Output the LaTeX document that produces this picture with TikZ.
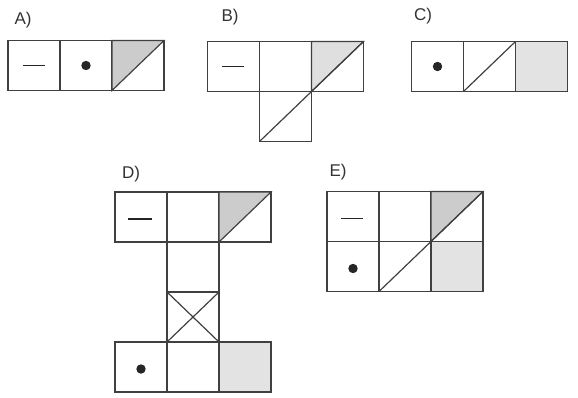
\documentclass[tikz,border=0pt]{standalone}
\usepackage{fontspec}
\setsansfont{Liberation Sans}
\usetikzlibrary{positioning}

\begin{document}
\begin{tikzpicture}[
    x=1pt, y=-1pt,
    node distance=0pt,
    cell/.style={
        rectangle,
        draw=black!75,
        line width=1.2pt,
        minimum width=52pt,
        minimum height=50pt,
        inner sep=0pt,
        outer sep=0pt
    },
    full/.style={
        cell,
        fill=gray!22
    },
    half/.style={
        draw=black!75,
        line width=1.2pt,
        fill=gray!40
    },
    diag/.style={
        draw=black!75,
        line width=1.2pt
    },
    bar/.style={
        draw=black!85,
        line width=1.4pt
    },
    lbl/.style={
        font=\sffamily\fontsize{17}{20}\selectfont,
        text=black!80
    }
]
\useasboundingbox (0,0) rectangle (578,397);

% Labels
\node[lbl] (labA) at (23,20) {A)};
\node[lbl] (labB) at (230,17) {B)};
\node[lbl] (labC) at (423,16) {C)};
\node[lbl] (labD) at (131,174) {D)};
\node[lbl] (labE) at (338,172) {E)};

% Net A
\node[cell] (a1) at (34,65.5) {};
\node[cell, right=of a1] (a2) {};
\node[cell, right=of a2] (a3) {};
\filldraw[half] (a3.south west) -- (a3.north west) -- (a3.north east) -- cycle;
\draw[bar] ([xshift=-11pt]a1.center) -- ([xshift=11pt]a1.center);
\fill[black!85] (a2.center) circle (4.7pt);

% Net B
\node[cell] (b1) at (233.5,66.5) {};
\node[cell, right=of b1] (b2) {};
\node[cell, right=of b2] (b3) {};
\node[cell, below=of b2] (b4) {};
\filldraw[half, fill=gray!25] (b3.south west) -- (b3.north west) -- (b3.north east) -- cycle;
\draw[diag] (b4.south west) -- (b3.north east);
\draw[bar] ([xshift=-12pt]b1.center) -- ([xshift=10pt]b1.center);

% Net C
\node[cell] (c1) at (437.5,66.5) {};
\node[cell, right=of c1] (c2) {};
\node[full, right=of c2] (c3) {};
\draw[diag] (c2.south west) -- (c2.north east);
\fill[black!85] (c1.center) circle (4.7pt);

% Net D
\node[cell] (d1) at (141,217) {};
\node[cell, right=of d1] (d2) {};
\node[cell, right=of d2] (d3) {};
\node[cell, below=of d2] (d4) {};
\node[cell, below=of d4] (d5) {};
\node[cell, below=of d5] (d7) {};
\node[cell, left=of d7] (d6) {};
\node[full, right=of d7] (d8) {};
\filldraw[half] (d3.south west) -- (d3.north west) -- (d3.north east) -- cycle;
\draw[diag] (d5.north west) -- (d5.south east);
\draw[diag] (d5.south west) -- (d5.north east);
\draw[bar] ([xshift=-13pt,yshift=-2pt]d1.center) -- ([xshift=11pt,yshift=-2pt]d1.center);
\fill[black!85] ([yshift=-2pt]d6.center) circle (4.7pt);

% Net E
\node[cell] (e1) at (353,216.5) {};
\node[cell, right=of e1] (e2) {};
\node[cell, right=of e2] (e3) {};
\node[cell, below=of e1] (e4) {};
\node[cell, right=of e4] (e5) {};
\node[full, right=of e5] (e6) {};
\filldraw[half] (e3.south west) -- (e3.north west) -- (e3.north east) -- cycle;
\draw[diag] (e5.south west) -- (e3.north east);
\draw[bar] ([xshift=-12pt,yshift=-2pt]e1.center) -- ([xshift=10pt,yshift=-2pt]e1.center);
\fill[black!85] ([yshift=-2pt]e4.center) circle (4.7pt);

\end{tikzpicture}
\end{document}
